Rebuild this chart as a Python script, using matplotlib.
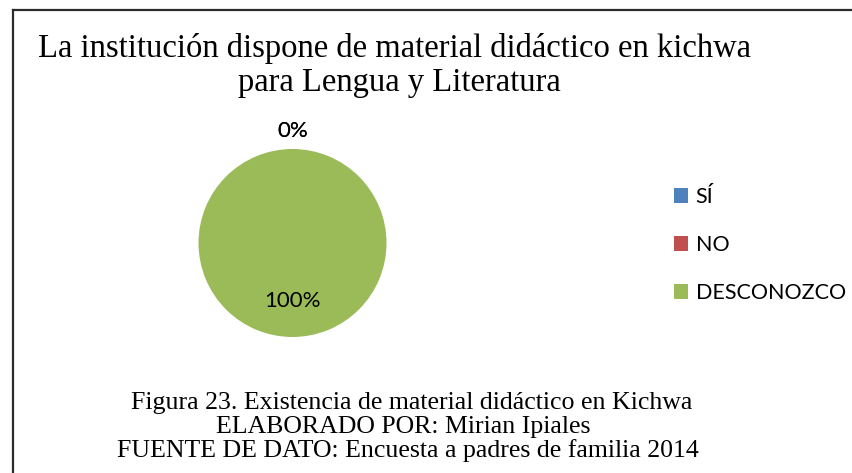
import matplotlib
matplotlib.use("Agg")
import matplotlib.pyplot as plt
from matplotlib.lines import Line2D
import numpy as np

categories = ["SÍ", "NO", "DESCONOZCO"]
values = [0, 0, 100]
colors = ["#4F81BD", "#C0504D", "#9BBB59"]
title_lines = ["La institución dispone de material didáctico en kichwa",
               "para Lengua y Literatura"]
caption_lines = ["Figura 23. Existencia de material didáctico en Kichwa",
                 "ELABORADO POR: Mirian Ipiales",
                 "FUENTE DE DATO: Encuesta a padres de familia 2014"]

W, H = 853, 473
fig = plt.figure(figsize=(W / 100, H / 100), dpi=100)
fig.patch.set_facecolor("white")

def fx(px):
    return px / W

def fy(py):
    return 1 - py / H

# frame lines (top and left)
fig.add_artist(Line2D([fx(13), 1.0], [fy(10), fy(10)], transform=fig.transFigure,
                      color="#2b2b2b", lw=1.6))
fig.add_artist(Line2D([fx(13), fx(13)], [fy(10), 0.0], transform=fig.transFigure,
                      color="#2b2b2b", lw=1.6))

# title
serif = "Liberation Serif"
fig.text(fx(394.5), fy(57), title_lines[0], ha="center", va="baseline",
         family=serif, fontsize=23.5, color="black")
fig.text(fx(399), fy(91), title_lines[1], ha="center", va="baseline",
         family=serif, fontsize=23.5, color="black")

# pie
cx, cy, r = 292.5, 243, 94
ax = fig.add_axes([fx(cx - r), fy(cy + r), 2 * r / W, 2 * r / H])
wedges, _ = ax.pie(values, colors=colors, startangle=90, counterclock=False,
                   radius=1.0, wedgeprops=dict(linewidth=0))
ax.set_xlim(-1, 1)
ax.set_ylim(-1, 1)
ax.axis("off")

total = sum(values)
sans = "Lato"
for w, v in zip(wedges, values):
    ang = np.deg2rad((w.theta1 + w.theta2) / 2)
    dist = 0.62 if v / total > 0.05 else 1.19
    ax.text(dist * np.cos(ang), dist * np.sin(ang), f"{v / total:.0%}",
            ha="center", va="center", family=sans, fontsize=16, color="black")

# legend
leg = fig.legend(wedges, categories, loc="center left",
                 bbox_to_anchor=(fx(674), fy(245)), frameon=False,
                 prop=dict(family=sans, size=15.5), handlelength=0.65,
                 handleheight=0.65, handletextpad=0.35, labelspacing=1.3,
                 borderpad=0, borderaxespad=0)

# caption
caption_x = [411.5, 403.5, 407.5]
for i, line in enumerate(caption_lines):
    fig.text(fx(caption_x[i]), fy(409 + 24 * i), line, ha="center", va="baseline",
             family=serif, fontsize=18.6, color="black")

fig.savefig("out.png", dpi=100, facecolor="white")
